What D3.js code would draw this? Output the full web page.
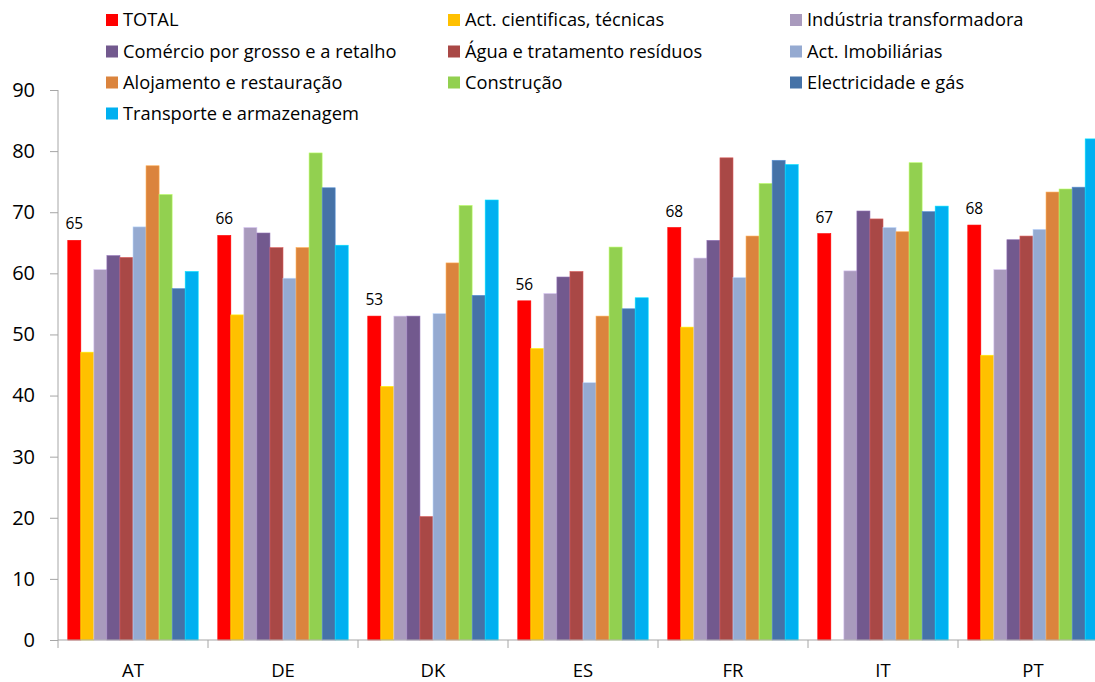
<!DOCTYPE html>
<html>
<head>
<meta charset="utf-8">
<script src="https://cdn.jsdelivr.net/npm/d3@7"></script>
<style>
  html, body { margin: 0; padding: 0; background: #fff; }
  svg { display: block; font-family: "Open Sans", Lato, sans-serif; }
</style>
</head>
<body>
<svg id="chart" width="1095" height="682"></svg>
<script>
// Countries on the x axis
const categories = ["AT", "DE", "DK", "ES", "FR", "IT", "PT"];

// Sector names (legend order = bar order inside each group)
const seriesNames = [
  "TOTAL",
  "Act. cientificas, técnicas",
  "Indústria transformadora",
  "Comércio por grosso e a retalho",
  "Água e tratamento resíduos",
  "Act. Imobiliárias",
  "Alojamento e restauração",
  "Construção",
  "Electricidade e gás",
  "Transporte e armazenagem"
];

const seriesColors = [
  "#FF0000", "#FFC000", "#A99ABD", "#72598E", "#A94846",
  "#95AAD1", "#DB843D", "#92D050", "#4572A7", "#00B0F0"
];

// Values per sector, one entry per country (null = no data)
const total          = [65.4, 66.2, 53.0, 55.5, 67.5, 66.5, 67.9];
const actCientificas = [47.1, 53.2, 41.5, 47.7, 51.2, null, 46.6];
const industria      = [60.6, 67.5, 53.0, 56.7, 62.5, 60.4, 60.6];
const comercio       = [62.9, 66.6, 53.0, 59.4, 65.4, 70.2, 65.5];
const agua           = [62.6, 64.2, 20.2, 60.3, 78.9, 68.9, 66.1];
const imobiliarias   = [67.6, 59.2, 53.4, 42.1, 59.3, 67.5, 67.2];
const alojamento     = [77.6, 64.2, 61.7, 53.0, 66.1, 66.8, 73.3];
const construcao     = [72.9, 79.7, 71.1, 64.3, 74.7, 78.1, 73.8];
const electricidade  = [57.5, 74.0, 56.4, 54.2, 78.5, 70.1, 74.1];
const transporte     = [60.3, 64.6, 72.0, 56.0, 77.8, 71.0, 82.0];

const seriesValues = [total, actCientificas, industria, comercio, agua,
                      imobiliarias, alojamento, construcao, electricidade, transporte];

const yTicks = [0, 10, 20, 30, 40, 50, 60, 70, 80, 90];

const svg = d3.select("#chart");
const axisColor = "#A6A6A6";

// Plot area (extends past the right edge of the view)
const plotLeft = 58, plotRight = 1108, plotTop = 90, plotBottom = 640;

const x0 = d3.scaleBand().domain(categories).range([plotLeft, plotRight]).paddingInner(0).paddingOuter(0);
const x1 = d3.scaleBand().domain(d3.range(seriesNames.length)).range([0, x0.bandwidth()])
  .paddingInner(0).paddingOuter(0.75);
const y = d3.scaleLinear().domain([0, 90]).range([plotBottom, plotTop]);

// Bars
const groups = svg.append("g").selectAll("g")
  .data(categories)
  .join("g")
  .attr("transform", d => `translate(${x0(d)},0)`);

groups.selectAll("rect")
  .data((c, ci) => seriesValues.map((vals, si) => ({ si, v: vals[ci] })).filter(d => d.v != null))
  .join("rect")
  .attr("x", d => x1(d.si))
  .attr("width", x1.bandwidth())
  .attr("y", d => y(d.v))
  .attr("height", d => y(0) - y(d.v))
  .attr("fill", d => seriesColors[d.si])
  .attr("stroke", d => d3.color(seriesColors[d.si]).brighter(0.7))
  .attr("stroke-width", 0.6);

// Data labels on TOTAL bars
svg.append("g").selectAll("text")
  .data(categories.map((c, i) => ({ c, v: total[i] })))
  .join("text")
  .attr("x", d => x0(d.c) + x1(0) + x1.bandwidth() / 2)
  .attr("y", d => y(d.v) - 11)
  .attr("text-anchor", "middle")
  .attr("font-size", 15.5)
  .attr("fill", "#000")
  .text(d => Math.round(d.v));

// Y axis
const yAxis = svg.append("g")
  .attr("transform", `translate(${plotLeft},0)`)
  .call(d3.axisLeft(y).tickValues(yTicks).tickSize(8).tickPadding(15).tickFormat(d3.format("d")));
yAxis.select(".domain").attr("stroke", axisColor).attr("d", `M0,${plotTop}V${plotBottom}`);
yAxis.selectAll(".tick line").attr("stroke", axisColor);
yAxis.selectAll(".tick text").attr("font-size", 20).attr("fill", "#000")
  .attr("font-family", "'Open Sans', sans-serif");

// X axis: baseline, boundary ticks and country labels
const xg = svg.append("g");
xg.append("line")
  .attr("x1", plotLeft).attr("x2", plotRight)
  .attr("y1", plotBottom).attr("y2", plotBottom)
  .attr("stroke", axisColor);
xg.selectAll("line.tick")
  .data(categories.concat(["_end"]))
  .join("line")
  .attr("class", "tick")
  .attr("x1", (d, i) => plotLeft + i * x0.step())
  .attr("x2", (d, i) => plotLeft + i * x0.step())
  .attr("y1", plotBottom).attr("y2", plotBottom + 8)
  .attr("stroke", axisColor);
xg.selectAll("text")
  .data(categories)
  .join("text")
  .attr("x", d => x0(d) + x0.bandwidth() / 2)
  .attr("y", 676.5)
  .attr("text-anchor", "middle")
  .attr("font-size", 18.5)
  .attr("fill", "#000")
  .text(d => d);

// Legend: 3 columns, filled row by row
const legendCols = [106, 448, 790];
const legendRows = [26, 57.5, 88.5, 119.5];
const legend = svg.append("g").selectAll("g")
  .data(seriesNames)
  .join("g")
  .attr("transform", (d, i) => `translate(${legendCols[i % 3]},${legendRows[Math.floor(i / 3)]})`);
legend.append("rect")
  .attr("x", 0).attr("y", -12)
  .attr("width", 12).attr("height", 12)
  .attr("fill", (d, i) => seriesColors[i]);
legend.append("text")
  .attr("x", 17).attr("y", 0)
  .attr("font-size", 18.3)
  .attr("fill", "#000")
  .text(d => d);
</script>
</body>
</html>
